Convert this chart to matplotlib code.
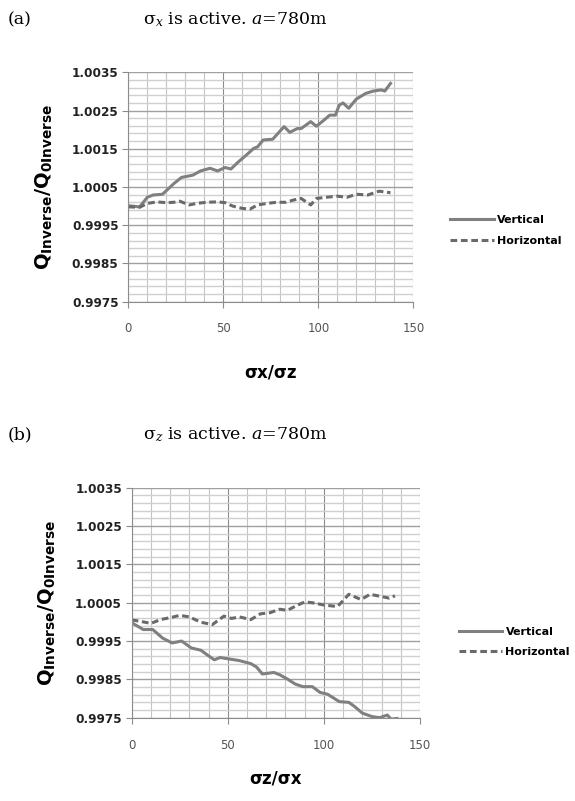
import matplotlib
matplotlib.use("Agg")
import matplotlib.pyplot as plt
import numpy as np

plt.rcParams['mathtext.fontset'] = 'custom'
plt.rcParams['mathtext.rm'] = 'DejaVu Serif'
plt.rcParams['mathtext.it'] = 'DejaVu Serif:italic'
plt.rcParams['mathtext.bf'] = 'DejaVu Sans:bold'

# panel (a): sigma_x active
va_x = [0, 6, 10, 13, 18, 24, 28, 34, 38, 43, 47, 51, 54, 58, 62, 66, 68, 71, 76, 82, 85, 89, 91,
        96, 99, 103, 106, 109, 111, 113, 116, 120, 125, 129, 133, 135, 138]
va_y = [1.00001, 0.99998, 1.00023, 1.00029, 1.00031, 1.00059, 1.00075, 1.00081, 1.00092, 1.00099,
        1.00092, 1.00101, 1.00097, 1.00116, 1.00133, 1.00151, 1.00155, 1.00173, 1.00175, 1.00208,
        1.00193, 1.00203, 1.00203, 1.00221, 1.00209, 1.00225, 1.00238, 1.00238, 1.00264, 1.0027,
        1.00256, 1.0028, 1.00295, 1.00301, 1.00304, 1.00301, 1.00321]
ha_x = [0, 6, 10, 15, 20, 24, 27, 32, 36, 41, 47, 51, 55, 60, 64, 68, 73, 78, 83, 87, 91, 96, 99,
        104, 110, 115, 120, 126, 132, 138]
ha_y = [0.99998, 0.99997, 1.00007, 1.00011, 1.00009, 1.0001, 1.00013, 1.00003, 1.00007, 1.0001,
        1.00011, 1.00009, 1.0, 0.99994, 0.99992, 1.00003, 1.00007, 1.0001, 1.0001, 1.00016, 1.0002,
        1.00003, 1.0002, 1.00023, 1.00026, 1.00023, 1.00031, 1.00029, 1.00039, 1.00035]

# panel (b): sigma_z active
vb_x = [0, 6, 11, 16, 21, 26, 31, 36, 39, 43, 46, 51, 56, 62, 65, 68, 74, 77, 81, 85, 89, 94, 98,
        102, 108, 113, 116, 120, 125, 129, 133, 135, 138]
vb_y = [0.99998, 0.9998, 0.9998, 0.99958, 0.99945, 0.9995, 0.99932, 0.99926, 0.99915, 0.99901,
        0.99907, 0.99903, 0.99899, 0.99891, 0.99882, 0.99864, 0.99868, 0.99862, 0.99851, 0.99838,
        0.99831, 0.99831, 0.99816, 0.99811, 0.99792, 0.9979, 0.99779, 0.99762, 0.99753, 0.9975,
        0.99757, 0.99746, 0.99748]
hb_x = [0, 4, 10, 15, 21, 25, 30, 36, 42, 48, 52, 56, 62, 67, 72, 77, 81, 86, 90, 94, 100, 107,
        109, 113, 119, 121, 124, 130, 134, 137]
hb_y = [1.00005, 1.00002, 0.99996, 1.00006, 1.00012, 1.00017, 1.00013, 0.99999, 0.99993, 1.00015,
        1.00009, 1.00013, 1.00006, 1.00021, 1.00024, 1.00033, 1.0003, 1.00043, 1.00052, 1.0005,
        1.00044, 1.0004, 1.0005, 1.00072, 1.00059, 1.00063, 1.00072, 1.00066, 1.00062, 1.00068]

y_ticks = [0.9975, 0.9985, 0.9995, 1.0005, 1.0015, 1.0025, 1.0035]
x_ticks = [0, 50, 100, 150]
series_names = ['Vertical', 'Horizontal']

fig = plt.figure(figsize=(5.75, 8.01), dpi=100)


def panel(rect, xv, yv, xh, yh, xlabel, xpad, leg_anchor):
    ax = fig.add_axes(rect)
    ax.set_xlim(0, 150)
    ax.set_ylim(0.9975, 1.0035)
    ax.set_xticks(x_ticks)
    ax.set_xticks(np.arange(0, 151, 10), minor=True)
    ax.set_yticks(y_ticks)
    ax.set_yticks(np.arange(0.9975, 1.00351, 0.0002), minor=True)
    ax.set_yticklabels(['%.4f' % v for v in y_ticks], fontweight='bold', fontsize=8.7,
                       color='#222222')
    ax.set_xticklabels([str(v) for v in x_ticks], fontsize=8.5, color='#555555')
    ax.grid(True, which='minor', axis='x', color='#c4c4c4', lw=0.8)
    ax.grid(True, which='major', axis='x', color='#8c8c8c', lw=0.8)
    ax.grid(True, which='minor', axis='y', color='#d0d0d0', lw=1.0)
    ax.grid(True, which='major', axis='y', color='#a0a0a0', lw=1.0)
    ax.set_axisbelow(True)
    ax.tick_params(axis='x', which='major', length=4, color='#8c8c8c', pad=11)
    ax.tick_params(axis='y', which='major', length=4, color='#8c8c8c', pad=3)
    ax.tick_params(which='minor', length=0)
    for s in ['top', 'right']:
        ax.spines[s].set_visible(False)
    for s in ['left', 'bottom']:
        ax.spines[s].set_color('#8c8c8c')
        ax.spines[s].set_linewidth(0.8)
    ax.plot(xv, yv, color='#808080', lw=2.2, label=series_names[0])
    ax.plot(xh, yh, color='#6a6a6a', lw=2.2, ls=(0, (2.2, 1.2)), label=series_names[1])
    ax.set_xlabel(xlabel, fontsize=12, fontweight='bold', labelpad=xpad)
    ax.set_ylabel(r'$\mathbf{Q_{Inverse}/Q_{0Inverse}}$', fontsize=14, labelpad=12)
    ax.legend(loc='center left', bbox_to_anchor=leg_anchor, frameon=False,
              prop={'weight': 'bold', 'size': 8}, handlelength=3.9,
              handletextpad=0.3, labelspacing=0.95)
    return ax


panel([0.2231, 0.6234, 0.4957, 0.2863], va_x, va_y, ha_x, ha_y, 'σx/σz', 20, (1.095, 0.31))
panel([0.2290, 0.1040, 0.5014, 0.2871], vb_x, vb_y, hb_x, hb_y, 'σz/σx', 13, (1.10, 0.33))

fig.text(0.014, 0.975, '(a)', fontsize=12.5, family='DejaVu Serif', va='center')
fig.text(0.248, 0.975, r'$\mathrm{\sigma}_{x}$ is active. $a$=780m', fontsize=12.5,
         family='DejaVu Serif', va='center')
fig.text(0.014, 0.457, '(b)', fontsize=12.5, family='DejaVu Serif', va='center')
fig.text(0.248, 0.457, r'$\mathrm{\sigma}_{z}$ is active. $a$=780m', fontsize=12.5,
         family='DejaVu Serif', va='center')

fig.savefig('out.png', dpi=100)
